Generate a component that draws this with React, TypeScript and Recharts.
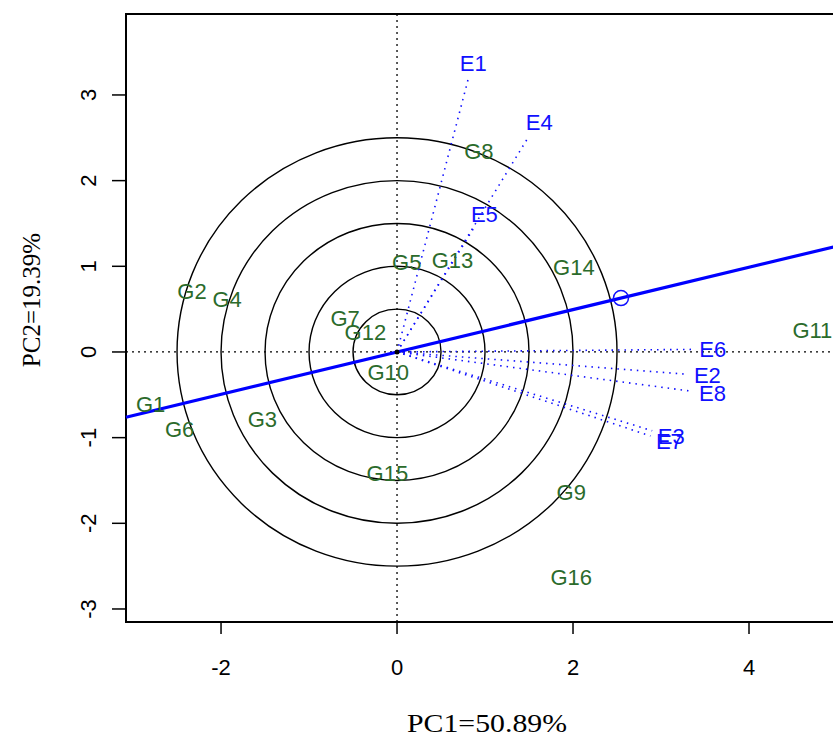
import React from "react";
import {
  ScatterChart,
  Scatter,
  XAxis,
  YAxis,
  ReferenceLine,
  ReferenceArea,
  ReferenceDot,
  Label,
} from "recharts";

// genotype scores (PC1, PC2)
const genotypes = ["G1", "G2", "G3", "G4", "G5", "G6", "G7", "G8", "G9", "G10", "G11", "G12", "G13", "G14", "G15", "G16"];
const genoPC1 = [-2.8, -2.33, -1.53, -1.93, 0.11, -2.47, -0.59, 0.93, 1.98, -0.1, 4.72, -0.36, 0.63, 2.01, -0.11, 1.98];
const genoPC2 = [-0.61, 0.71, -0.78, 0.62, 1.05, -0.9, 0.4, 2.35, -1.63, -0.23, 0.26, 0.23, 1.07, 0.99, -1.41, -2.63];

// environment vectors
const environments = ["E1", "E2", "E3", "E4", "E5", "E6", "E7", "E8"];
const envPC1 = [0.81, 3.3, 2.9, 1.5, 0.875, 3.36, 2.88, 3.36];
const envPC2 = [3.19, -0.26, -0.92, 2.52, 1.45, 0.03, -0.98, -0.46];

// average environment point
const aecPoint = { x: 2.545, y: 0.629 };
const ringRadii = [0.5, 1, 1.5, 2, 2.5];

const xTicks = [-2, 0, 2, 4];
const yTicks = [-3, -2, -1, 0, 1, 2, 3];

const X_MIN = -3.08;
const X_MAX = 5.125;
const Y_MIN = -3.152;
const Y_MAX = 3.945;

const GREEN = "#2b6b2b";
const BLUE = "#1010ff";
const SANS = "'Liberation Sans', Arial, sans-serif";
const SERIF = "'Liberation Serif', 'Times New Roman', serif";

const genoData = genotypes.map((name, i) => ({ name, x: genoPC1[i], y: genoPC2[i] }));
const envData = environments.map((name, i) => ({ name, x: envPC1[i], y: envPC2[i] }));
const aecSlope = aecPoint.y / aecPoint.x;

const Ring = (p: any) => (
  <ellipse
    cx={p.x + p.width / 2}
    cy={p.y + p.height / 2}
    rx={Math.abs(p.width) / 2}
    ry={Math.abs(p.height) / 2}
    fill="none"
    stroke="#000"
    strokeWidth={1.4}
  />
);

const GenoLabel = (p: any) => (
  <text x={p.cx} y={p.cy} dy="0.36em" textAnchor="middle" fill={GREEN} fontSize={22} fontFamily={SANS}>
    {p.payload.name}
  </text>
);

const EnvLabel = (p: any) => {
  const a = Math.atan2(p.payload.y, p.payload.x);
  return (
    <text
      x={p.cx + 20 * Math.cos(a)}
      y={p.cy - 16 * Math.sin(a)}
      dy="0.36em"
      textAnchor="middle"
      fill={BLUE}
      fontSize={22}
      fontFamily={SANS}
    >
      {p.payload.name}
    </text>
  );
};

const XTick = (p: any) => (
  <text x={p.x} y={p.y + 39} textAnchor="middle" fontSize={22} fontFamily={SANS} fill="#000">
    {p.payload.value}
  </text>
);

const YTick = (p: any) => (
  <text
    x={p.x - 14}
    y={p.y}
    transform={`rotate(-90, ${p.x - 14}, ${p.y})`}
    textAnchor="middle"
    fontSize={22}
    fontFamily={SANS}
    fill="#000"
  >
    {p.payload.value}
  </text>
);

export default function App() {
  return (
    <div style={{ position: "absolute", left: 0, top: 0, width: 833, height: 738, overflow: "hidden", background: "#fff" }}>
      <ScatterChart width={848} height={738} margin={{ top: 14, right: 0, bottom: 0, left: 0 }}>
        <XAxis
          type="number"
          dataKey="x"
          domain={[X_MIN, X_MAX]}
          ticks={xTicks}
          allowDataOverflow
          axisLine={false}
          tickSize={12}
          tickLine={{ stroke: "#000", strokeWidth: 1.5 }}
          tick={<XTick />}
          height={116}
        >
          <Label
            content={() => (
              <text
                x={487}
                y={732}
                textAnchor="middle"
                fontSize={26}
                fontFamily={SERIF}
                fill="#000"
                textLength={160}
                lengthAdjust="spacingAndGlyphs"
              >
                PC1=50.89%
              </text>
            )}
          />
        </XAxis>
        <YAxis
          type="number"
          dataKey="y"
          domain={[Y_MIN, Y_MAX]}
          ticks={yTicks}
          allowDataOverflow
          axisLine={false}
          tickSize={14}
          tickLine={{ stroke: "#000", strokeWidth: 1.5 }}
          tick={<YTick />}
          width={126}
        >
          <Label
            content={() => (
              <text
                x={40}
                y={300}
                transform="rotate(-90, 40, 300)"
                textAnchor="middle"
                fontSize={25}
                fontFamily={SERIF}
                fill="#000"
              >
                PC2=19.39%
              </text>
            )}
          />
        </YAxis>

        <ReferenceArea
          x1={X_MIN}
          x2={X_MAX}
          y1={Y_MIN}
          y2={Y_MAX}
          fill="none"
          fillOpacity={0}
          stroke="#000"
          strokeWidth={2}
          ifOverflow="visible"
        />
        <ReferenceLine x={0} stroke="#000" strokeDasharray="2 4" strokeWidth={1.3} />
        <ReferenceLine y={0} stroke="#000" strokeDasharray="2 4" strokeWidth={1.3} />

        {ringRadii.map((r) => (
          <ReferenceArea key={`ring-${r}`} x1={-r} x2={r} y1={-r} y2={r} shape={<Ring />} ifOverflow="visible" />
        ))}

        {envData.map((e) => (
          <ReferenceLine
            key={`vec-${e.name}`}
            segment={[
              { x: 0, y: 0 },
              { x: e.x, y: e.y },
            ]}
            stroke={BLUE}
            strokeDasharray="1.5 5"
            strokeWidth={1.6}
          />
        ))}

        <ReferenceLine
          segment={[
            { x: X_MIN, y: X_MIN * aecSlope },
            { x: X_MAX, y: X_MAX * aecSlope },
          ]}
          stroke="#0000ff"
          strokeWidth={3.2}
          ifOverflow="visible"
        />
        <ReferenceDot x={aecPoint.x} y={aecPoint.y} r={7.5} fill="none" stroke={BLUE} strokeWidth={1.5} />
        <ReferenceDot x={0} y={0} r={2.5} fill="#000" stroke="none" />

        <Scatter data={genoData} shape={<GenoLabel />} isAnimationActive={false} />
        <Scatter data={envData} shape={<EnvLabel />} isAnimationActive={false} />
      </ScatterChart>
    </div>
  );
}
